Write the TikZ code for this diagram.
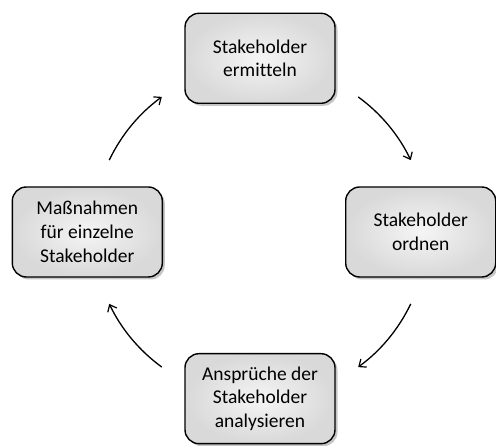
\documentclass[tikz,border=0pt]{standalone}
\usepackage{fontspec}
\setmainfont{Carlito}[Ligatures=NoCommon]
\usetikzlibrary{positioning,arrows.meta,shadows}

\begin{document}
\begin{tikzpicture}[
  x=1pt, y=1pt,
  font=\fontsize{19.5}{23.8}\selectfont,
  kasten/.style={draw=black, line width=1.4pt, rounded corners=14pt,
                 align=center, minimum width=150pt, minimum height=90pt,
                 inner color=gray!8, outer color=gray!30,
                 drop shadow={shadow xshift=2.5pt, shadow yshift=-2.5pt, opacity=0.45}},
  pfeil/.style={-{Straight Barb[length=6pt, width=10pt, line width=1.2pt]}, line width=1.3pt},
]
\useasboundingbox (0,0) rectangle (496,446);
\coordinate (mitte) at (260,214);
\node[kasten, above=128pt of mitte] (ermitteln) {Stakeholder\\ermitteln};
\node[kasten, right=85pt of mitte] (ordnen) {Stakeholder\\ordnen};
\node[kasten, below=121pt of mitte] (analysieren) {Ansprüche der\\Stakeholder\\analysieren};
\node[kasten, left=97pt of mitte] (massnahmen) {Maßnahmen\\für einzelne\\Stakeholder};
\foreach \a/\b in {54/25.5, -25.5/-54, -126/-154.5, 154.5/126}
  \draw[pfeil] ([shift={(\a:167pt)}]mitte) arc[start angle=\a, end angle=\b, radius=167pt];
\end{tikzpicture}
\end{document}
